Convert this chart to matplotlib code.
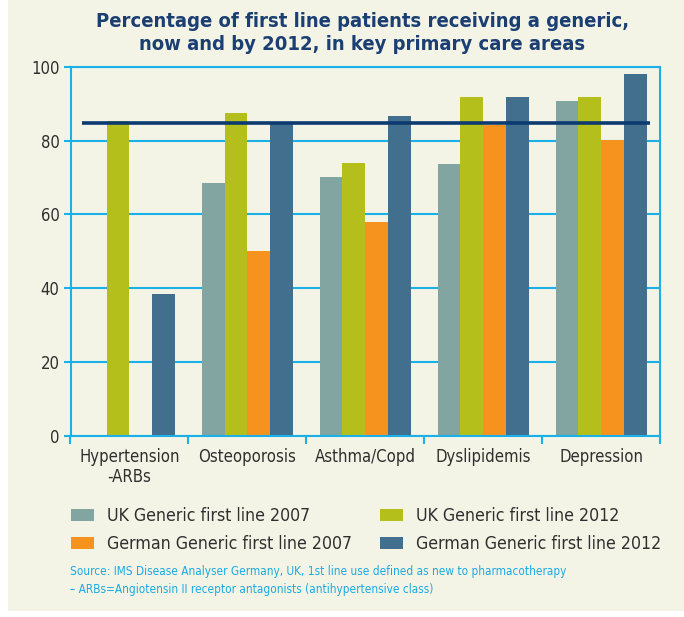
import matplotlib
matplotlib.use("Agg")
import matplotlib.pyplot as plt
import numpy as np
from matplotlib.patches import Rectangle, Patch

categories = ["Hypertension\n-ARBs", "Osteoporosis", "Asthma/Copd", "Dyslipidemis", "Depression"]
uk_2007 = [np.nan, 68.5, 70.2, 73.6, 90.8]
uk_2012 = [85.4, 87.5, 74.0, 91.9, 91.9]
de_2007 = [np.nan, 50.1, 58.0, 84.3, 80.2]
de_2012 = [38.4, 84.9, 86.7, 91.9, 98.1]
series_labels = ["UK Generic first line 2007", "UK Generic first line 2012",
                 "German Generic first line 2007", "German Generic first line 2012"]
benchmark = 84.7
yticks = [0, 20, 40, 60, 80, 100]
title = "Percentage of first line patients receiving a generic,\nnow and by 2012, in key primary care areas"
source = ("Source: IMS Disease Analyser Germany, UK, 1st line use defined as new to pharmacotherapy\n"
          "\u2013 ARBs=Angiotensin II receptor antagonists (antihypertensive class)")

colors = ["#82A5A2", "#B5BF1B", "#F6921E", "#426F8D"]
bg = "#F4F4E6"
grid_c = "#1CB0E8"
text_c = "#2F2F2F"
title_c = "#1B3F73"

W, H = 684, 617
fig = plt.figure(figsize=(W / 100, H / 100), dpi=100, facecolor="white")
fig.patches.append(Rectangle((8 / W, 6 / H), 1 - 8 / W, 1 - 6 / H, transform=fig.transFigure,
                             facecolor=bg, edgecolor="none", zorder=-10))

FONT = dict(family="DejaVu Sans", stretch="condensed")

l, r, t, b = 70.5, 660, 67, 435.7
ax = fig.add_axes([l / W, 1 - b / H, (r - l) / W, (b - t) / H])
ax.set_zorder(5)
ax.set_facecolor(bg)

x = np.arange(len(categories))
bw = 0.193
data = [uk_2007, uk_2012, de_2007, de_2012]
for i, (vals, c) in enumerate(zip(data, colors)):
    ax.bar(x + (i - 1.5) * bw, vals, width=bw, color=c, zorder=2, label=series_labels[i])

ax.hlines(benchmark, -0.40, 4.415, color="#0D3A70", lw=2.6, zorder=3)

ax.set_xlim(-0.5, 4.5)
ax.set_ylim(0, 100)
ax.set_yticks(yticks)
ax.set_yticklabels([str(v) for v in yticks], fontsize=12, color=text_c, **FONT)
ax.yaxis.grid(True, color=grid_c, lw=1.5, zorder=0)
ax.set_axisbelow(True)
for s in ax.spines.values():
    s.set_color(grid_c)
    s.set_linewidth(1.5)
ax.tick_params(axis="y", color=grid_c, width=1.5, length=5, pad=3)
ax.set_xticks(np.arange(-0.5, 5, 1.0))
ax.set_xticklabels([])
ax.tick_params(axis="x", which="major", color=grid_c, width=1.5, length=6)
ax.set_xticks(x, minor=True)
ax.set_xticklabels(categories, minor=True, fontsize=12, color=text_c, linespacing=1.1, **FONT)
ax.tick_params(axis="x", which="minor", length=0, pad=9)

fig.text(0.53, 1 - 33 / H, title, ha="center", va="center", fontsize=14.5, fontweight="bold",
         color=title_c, linespacing=1.3, **FONT)

handles = [Patch(facecolor=c, edgecolor="none") for c in colors]
order = [0, 2, 1, 3]
fig.legend([handles[i] for i in order], [series_labels[i] for i in order], ncol=2,
           loc="upper left", bbox_to_anchor=(64 / W, 1 - 500 / H), frameon=False,
           prop=dict(size=12.7, **FONT), labelcolor=text_c, handlelength=1.3, handleheight=0.68,
           handletextpad=0.74, columnspacing=1.6, labelspacing=0.55, borderaxespad=0)

fig.text(70 / W, 1 - 580 / H, source, ha="left", va="center", fontsize=8.5, color="#1AAAE2",
         linespacing=1.5, **FONT)

fig.savefig("out.png", dpi=100, facecolor=fig.get_facecolor())
